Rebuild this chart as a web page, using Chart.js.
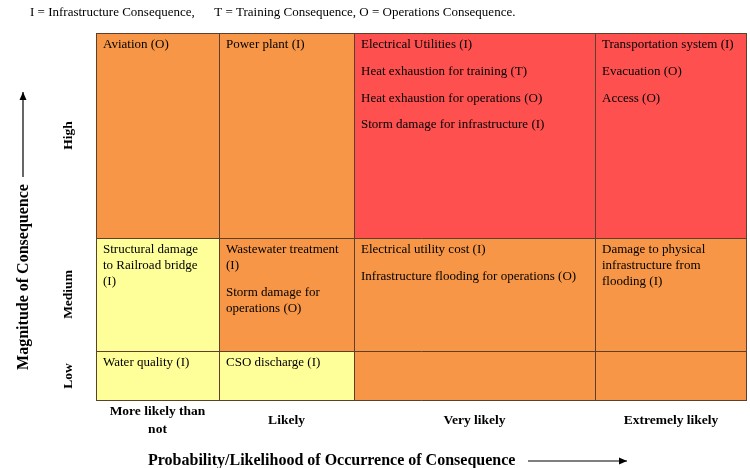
<!DOCTYPE html>
<html>
<head>
<meta charset="utf-8">
<script src="https://cdn.jsdelivr.net/npm/chart.js@4.4.0/dist/chart.umd.min.js"></script>
<style>
  html, body { margin: 0; padding: 0; background: #ffffff; }
  #wrap { width: 750px; height: 468px; position: relative; }
</style>
</head>
<body>
<div id="wrap"><canvas id="c" width="750" height="468"></canvas></div>
<script>
// ---------------- data ----------------
const legendNote = 'I = Infrastructure Consequence,      T = Training Consequence, O = Operations Consequence.';
const colLabels = ['More likely than not', 'Likely', 'Very likely', 'Extremely likely'];
const rowLabels = ['Low', 'Medium', 'High']; // bottom to top
const xTitle = 'Probability/Likelihood of Occurrence of Consequence';
const yTitle = 'Magnitude of Consequence';
// risk level per cell: 1 = low (yellow), 2 = moderate (orange), 3 = high (red)
const riskLow    = [1, 1, 2, 2];
const riskMedium = [1, 2, 2, 2];
const riskHigh   = [2, 2, 3, 3];
const itemsLow = [
  ['Water quality (I)'],
  ['CSO discharge (I)'],
  [],
  []
];
const itemsMedium = [
  ['Structural damage\nto Railroad bridge\n(I)'],
  ['Wastewater treatment\n(I)', 'Storm damage for\noperations (O)'],
  ['Electrical utility cost (I)', 'Infrastructure flooding for operations (O)'],
  ['Damage to physical\ninfrastructure from\nflooding (I)']
];
const itemsHigh = [
  ['Aviation (O)'],
  ['Power plant (I)'],
  ['Electrical Utilities (I)', 'Heat exhaustion for training (T)', 'Heat exhaustion for operations (O)', 'Storm damage for infrastructure (I)'],
  ['Transportation system (I)', 'Evacuation (O)', 'Access (O)']
];

// ---------------- layout / style ----------------
const colSpan = [123, 135, 241, 152];   // relative column widths
const rowSpan = [50, 113, 205];          // relative row heights (bottom to top)
const riskColors = { 1: '#FFFF99', 2: '#F79646', 3: '#FF5050' };
const gridColor = '#5e3f2c';
const serif = '"Liberation Serif", "Times New Roman", serif';

const riskRows = [riskLow, riskMedium, riskHigh];
const itemRows = [itemsLow, itemsMedium, itemsHigh];

const colEdges = [0];
colSpan.forEach(w => colEdges.push(colEdges[colEdges.length - 1] + w));
const rowEdges = [0];
rowSpan.forEach(h => rowEdges.push(rowEdges[rowEdges.length - 1] + h));

// one filled dataset per cell: top edge line filled down to the row's bottom
const datasets = [];
riskRows.forEach((row, r) => {
  row.forEach((lvl, c) => {
    datasets.push({
      label: rowLabels[r] + ' / ' + colLabels[c],
      data: [{ x: colEdges[c], y: rowEdges[r + 1] }, { x: colEdges[c + 1], y: rowEdges[r + 1] }],
      borderWidth: 0,
      borderColor: 'rgba(0,0,0,0)',
      backgroundColor: riskColors[lvl],
      pointRadius: 0,
      fill: { value: rowEdges[r] },
      tension: 0
    });
  });
});

function wrapText(ctx, text, maxWidth) {
  const words = text.split(' ');
  const lines = [];
  let cur = '';
  words.forEach(w => {
    const test = cur ? cur + ' ' + w : w;
    if (ctx.measureText(test).width > maxWidth && cur) { lines.push(cur); cur = w; }
    else cur = test;
  });
  if (cur) lines.push(cur);
  return lines;
}

function arrow(ctx, x1, y1, x2, y2) {
  ctx.beginPath();
  ctx.moveTo(x1, y1);
  ctx.lineTo(x2, y2);
  ctx.lineWidth = 1.2;
  ctx.strokeStyle = '#000';
  ctx.stroke();
  const ang = Math.atan2(y2 - y1, x2 - x1);
  const L = 8, W = 3.5;
  ctx.beginPath();
  ctx.moveTo(x2, y2);
  ctx.lineTo(x2 - L * Math.cos(ang) + W * Math.sin(ang), y2 - L * Math.sin(ang) - W * Math.cos(ang));
  ctx.lineTo(x2 - L * Math.cos(ang) - W * Math.sin(ang), y2 - L * Math.sin(ang) + W * Math.cos(ang));
  ctx.closePath();
  ctx.fillStyle = '#000';
  ctx.fill();
}

const matrixDecor = {
  id: 'matrixDecor',
  afterDatasetsDraw(chart) {
    const { ctx } = chart;
    const xs = chart.scales.x, ys = chart.scales.y;
    ctx.save();
    // grid lines
    ctx.strokeStyle = gridColor;
    ctx.lineWidth = 1;
    const top = ys.getPixelForValue(rowEdges[rowEdges.length - 1]);
    const bot = ys.getPixelForValue(0);
    const left = xs.getPixelForValue(0);
    const right = xs.getPixelForValue(colEdges[colEdges.length - 1]);
    colEdges.forEach((e, i) => {
      let px = Math.round(xs.getPixelForValue(e));
      px = (i === colEdges.length - 1) ? px - 0.5 : px + 0.5;
      ctx.beginPath(); ctx.moveTo(px, top); ctx.lineTo(px, bot); ctx.stroke();
    });
    rowEdges.forEach((e, i) => {
      let py = Math.round(ys.getPixelForValue(e));
      py = (i === 0) ? py - 0.5 : py + 0.5;
      ctx.beginPath(); ctx.moveTo(left, py); ctx.lineTo(right, py); ctx.stroke();
    });

    // cell texts
    ctx.fillStyle = '#000';
    ctx.font = '13px ' + serif;
    ctx.textAlign = 'left';
    ctx.textBaseline = 'middle';
    itemRows.forEach((row, r) => {
      const cellTop = ys.getPixelForValue(rowEdges[r + 1]);
      row.forEach((items, c) => {
        const cx = xs.getPixelForValue(colEdges[c]) + 7;
        let yy = cellTop + 11.5;
        items.forEach((item, k) => {
          const lines = item.split('\n');
          lines.forEach((ln, j) => {
            ctx.fillText(ln, cx, yy);
            if (j < lines.length - 1) yy += 16;
          });
          yy += 26.8;
        });
      });
    });

    // row labels (rotated)
    ctx.font = 'bold 13.5px ' + serif;
    ctx.textAlign = 'center';
    rowLabels.forEach((lab, r) => {
      const cy = (ys.getPixelForValue(rowEdges[r]) + ys.getPixelForValue(rowEdges[r + 1])) / 2;
      ctx.save();
      ctx.translate(69, cy);
      ctx.rotate(-Math.PI / 2);
      ctx.fillText(lab, 0, 0);
      ctx.restore();
    });

    // column labels
    colLabels.forEach((lab, c) => {
      const x0 = xs.getPixelForValue(colEdges[c]), x1 = xs.getPixelForValue(colEdges[c + 1]);
      const lines = wrapText(ctx, lab, (x1 - x0) - 12);
      const cy = bot + 19.5;
      const start = cy - (lines.length - 1) * 9;
      lines.forEach((ln, j) => ctx.fillText(ln, (x0 + x1) / 2, start + j * 18));
    });

    // axis titles
    ctx.font = 'bold 16px ' + serif;
    ctx.textAlign = 'left';
    ctx.fillText(xTitle, 148, 461);
    arrow(ctx, 528, 461, 627, 461);

    ctx.save();
    ctx.translate(24, 277);
    ctx.rotate(-Math.PI / 2);
    ctx.textAlign = 'center';
    ctx.fillStyle = '#000';
    ctx.font = 'bold 16px ' + serif;
    ctx.fillText(yTitle, 0, 0);
    ctx.restore();
    arrow(ctx, 23, 177, 23, 92);

    // note at top
    ctx.font = '13px ' + serif;
    ctx.fillStyle = '#000';
    ctx.textAlign = 'left';
    ctx.textBaseline = 'middle';
    ctx.fillText(legendNote, 30, 13);
    ctx.restore();
  }
};

new Chart(document.getElementById('c'), {
  type: 'line',
  data: { datasets },
  options: {
    responsive: false,
    animation: false,
    devicePixelRatio: 1,
    layout: { padding: { left: 96, right: 3, top: 33, bottom: 67 } },
    plugins: { legend: { display: false }, tooltip: { enabled: false }, filler: { propagate: false } },
    scales: {
      x: { type: 'linear', display: false, min: 0, max: colEdges[colEdges.length - 1] },
      y: { type: 'linear', display: false, min: 0, max: rowEdges[rowEdges.length - 1] }
    }
  },
  plugins: [matrixDecor]
});
</script>
</body>
</html>
